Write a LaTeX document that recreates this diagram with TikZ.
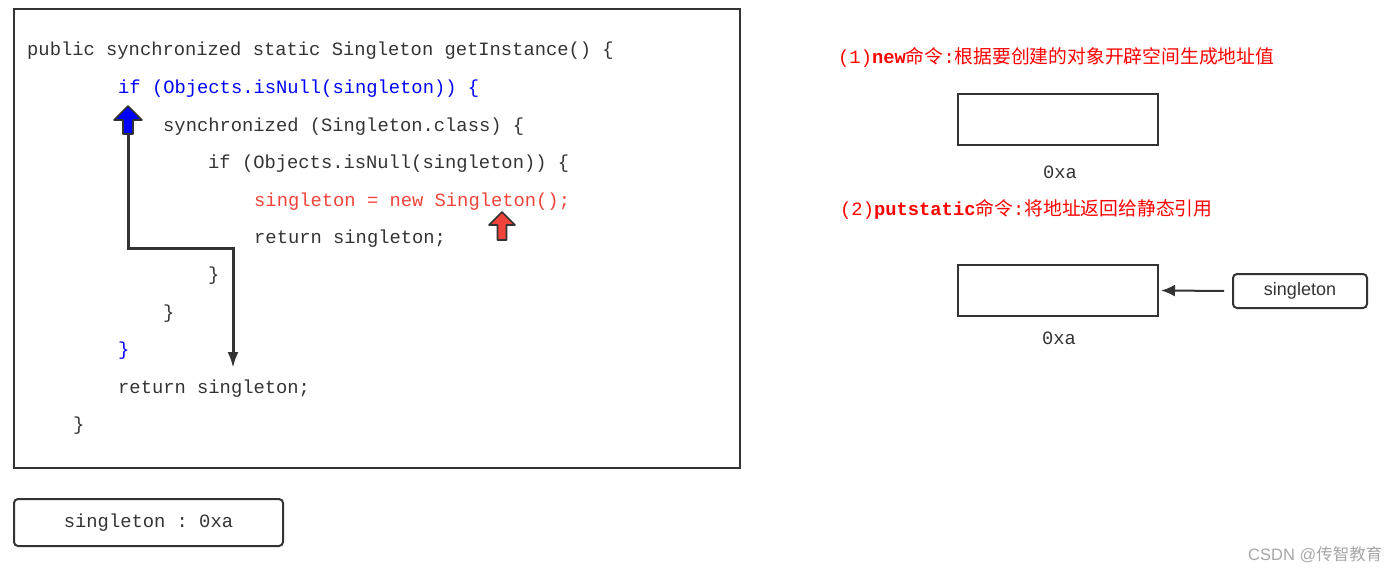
\documentclass[tikz,border=0pt]{standalone}
\usepackage{fontspec}
\setmonofont{Liberation Mono}
\setsansfont{Liberation Sans}
\newfontfamily\cjk{Noto Sans CJK SC}
\usetikzlibrary{arrows.meta}
\definecolor{codered}{HTML}{F0433A}
\definecolor{codeblue}{HTML}{0000FF}
\definecolor{linegray}{HTML}{333333}

\begin{document}
\begin{tikzpicture}[x=1pt,y=-1pt]
\useasboundingbox (0,0) rectangle (1399,573);
\tikzstyle{code}=[anchor=base west,inner sep=0pt,font=\fontsize{18.8}{22}\ttfamily,text=linegray]
\tikzstyle{note}=[anchor=base west,inner sep=0pt,font=\fontsize{18.8}{22}\ttfamily,text=red]
\tikzstyle{memory}=[draw=linegray,line width=2pt,minimum width=200pt,minimum height=51pt,inner sep=0pt]
\tikzstyle{ref}=[draw=linegray,line width=2pt,rounded corners=4pt,inner sep=0pt]
\node[draw=linegray,line width=2pt,minimum width=726pt,minimum height=459pt,inner sep=0pt] (frame) at (377,238.5) {};
% code lines
\node[code] (l1) at (27,55) {public synchronized static Singleton getInstance() \{};
\node[code,text=codeblue] (l2) at (118,93) {if (Objects.isNull(singleton)) \{};
\node[code] (l3) at (163,131) {synchronized (Singleton.class) \{};
\node[code] (l4) at (208,168) {if (Objects.isNull(singleton)) \{};
\node[code,text=codered] (l5) at (254,206) {singleton = new Singleton();};
\node[code] (l6) at (254,243) {return singleton;};
\node[code] (l7) at (208,280) {\}};
\node[code] (l8) at (163,318) {\}};
\node[code,text=codeblue] (l9) at (118,355) {\}};
\node[code] (l10) at (118,393) {return singleton;};
\node[code] (l11) at (73,430) {\}};
% flow of the second thread
\coordinate (up) at (128,133);
\coordinate (turn1) at (128,248);
\coordinate (turn2) at (233,248);
\coordinate (down) at (233,368);
\draw[linegray,line width=3pt,-{Latex[length=16pt,width=11pt]}] (up) -- (turn1) -- (turn2) -- (down);
\draw[shift={(128,106)},fill=codeblue,draw=linegray,line width=1.6pt,line join=round]
	(-14,14) -- (0,0) -- (14,14) -- (5,14) -- (5,28) -- (-5,28) -- (-5,14) -- cycle;
\draw[shift={(502,212)},fill=codered,draw=linegray,line width=1.6pt,line join=round]
	(-13,13) -- (0,0) -- (13,13) -- (4.5,13) -- (4.5,28) -- (-4.5,28) -- (-4.5,13) -- cycle;
% variable
\node[ref,minimum width=269pt,minimum height=47pt,font=\fontsize{18.8}{22}\ttfamily,text=linegray] (var) at (148.5,522.5) {singleton : 0xa};
% right side
\node[note] (n1) at (838,63) {(1)\textbf{new}{\cjk 命令}:{\cjk 根据要创建的对象开辟空间生成地址值}};
\node[memory] (mem1) at (1058,119.5) {};
\node[code,anchor=center] (a1) at (1060,172) {0xa};
\node[note] (n2) at (840,215) {(2)\textbf{putstatic}{\cjk 命令}:{\cjk 将地址返回给静态引用}};
\node[memory] (mem2) at (1058,290.5) {};
\node[code,anchor=center] (a2) at (1059,338) {0xa};
\node[ref,minimum width=134pt,minimum height=34pt,font=\fontsize{18}{20}\sffamily,text=linegray] (single) at (1300,291) {singleton};
\draw[linegray,line width=2pt,-{Latex[length=14pt,width=12pt]},shorten <=8pt,shorten >=2pt] (single.west) -- (mem2.east);
\node[anchor=base west,inner sep=0pt,text=gray!70,font=\fontsize{16.5}{18}\sffamily] (mark) at (1248,560) {CSDN @{\cjk 传智教育}};
\end{tikzpicture}
\end{document}
